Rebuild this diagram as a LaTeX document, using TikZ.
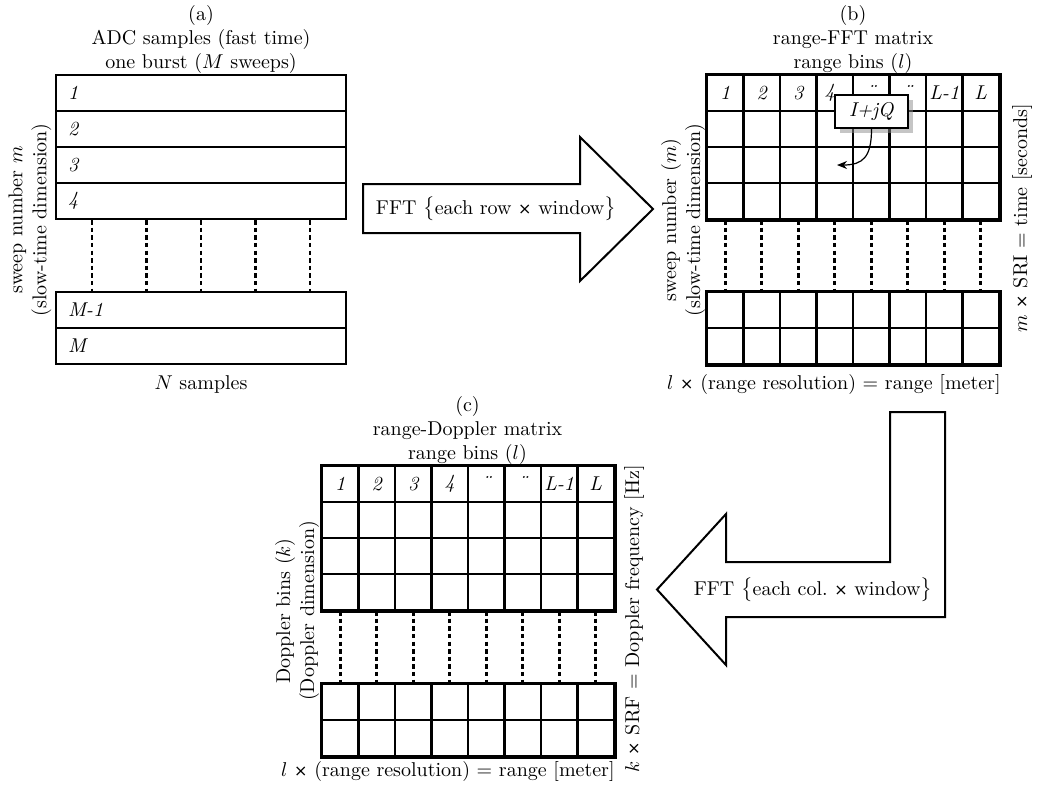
\documentclass[tikz,border=0pt]{standalone}
\usepackage{fontspec}
\newfontfamily\timesfont{DejaVu Sans}
\usetikzlibrary{arrows.meta,shadows}
% small sans multiplication sign used in the labels
\newcommand{\tms}{{\fontsize{8}{8}\timesfont ×}}
\begin{document}
\begin{tikzpicture}[x=0.5pt,y=-0.5pt,
  font=\fontsize{10}{12}\selectfont,
  cellb/.style={draw, line width=1.1pt, minimum width=18.25pt, minimum height=18pt, inner sep=0pt, font=\fontsize{10}{12}\selectfont\itshape},
  rowbox/.style={draw, line width=1.1pt, minimum height=18pt, text width=133pt, inner xsep=6pt, inner ysep=0pt, align=left, font=\fontsize{10}{12}\selectfont\itshape},
  frame/.style={line width=1.4pt},
  dotline/.style={line width=1.4pt, dash pattern=on 2.2pt off 1.6pt},
  bigarrow/.style={draw, line width=1pt, fill=white, line join=miter},
  caption/.style={align=center, inner sep=0pt},
  sidelabel/.style={rotate=90, align=center, inner sep=0pt},
]
\useasboundingbox (0,0) rectangle (1038,789);

% ---------- (a) ADC samples ----------
\foreach \i/\t/\y in {1/1/93, 2/2/129, 3/3/165, 4/4/201, 5/M-1/310, 6/M/346}
  \node[rowbox] (a\i) at (201,\y) {\t};
\foreach \dx in {-109,-54.5,0,54.5,109}
  \draw[dotline] ([xshift=\dx*0.5pt]a4.south) -- ([xshift=\dx*0.5pt]a5.north);
\node[caption, anchor=south] (ta) at (201,74) {(a)\\ADC samples (fast time)\\one burst ($M$ sweeps)};
\node[anchor=base] (na) at (201,389) {$N$ samples};
\node[sidelabel] (la) at (30,220) {sweep number $m$\\(slow-time dimension)};

% ---------- first FFT arrow ----------
\draw[bigarrow] (363,184) -- (580,184) -- (580,137) -- (653,209) -- (580,281) -- (580,233) -- (363,233) -- cycle;
\node (fft1) at (496,209) {FFT $\bigl\{$each row \tms{} window$\bigr\}$};

% ---------- (b) range-FFT matrix ----------
\foreach \c/\t in {1/1,2/2,3/3,4/\hspace*{-5pt}4,5/\raisebox{1.5pt}{¨},6/\raisebox{1.5pt}{¨},7/L-1,8/L} {
  \pgfmathsetmacro\xx{725.25+36.5*(\c-1)}
  \node[cellb] (b-1-\c) at (\xx,93) {\t};
  \foreach \r/\y in {2/129,3/165,4/201,5/310,6/346}
    \node[cellb] (b-\r-\c) at (\xx,\y) {};
}
\draw[frame] (b-1-1.north west) rectangle (b-4-8.south east);
\draw[frame] (b-5-1.north west) rectangle (b-6-8.south east);
\foreach \c in {1,...,8}
  \draw[dotline] (b-4-\c.south) -- (b-5-\c.north);
\node[caption, anchor=south] (tb) at (853,74) {(b)\\range-FFT matrix\\range bins ($l$)};
\node[sidelabel] (lb) at (683,220) {sweep number ($m$)\\(slow-time dimension)};
\node[sidelabel] (rb) at (1022,218) {$m$ \tms{} SRI = time [seconds]};
\node[anchor=base east, inner xsep=0pt] (xb) at (1001,389) {$l$ \tms{} (range resolution) = range [meter]};

% complex sample cell
\node[draw, fill=white, line width=1pt, minimum width=36.5pt, minimum height=16.5pt, inner sep=0pt,
      drop shadow={shadow xshift=2.5pt, shadow yshift=-2.5pt, fill=black!45}] (iq) at (871.5,111.5) {\textit{I+jQ}};
\coordinate (iqend) at (837,165);
\draw[line width=0.6pt, -{Stealth[length=5pt,width=4pt]}] (iq.south) .. controls +(0,28) and +(26,0) .. (iqend);

% ---------- second FFT arrow ----------
\draw[bigarrow] (945,412) -- (945,617) -- (726,617) -- (726,665) -- (657,589.5) -- (726,514) -- (726,562) -- (890,562) -- (890,412) -- cycle;
\node (fft2) at (813,590) {FFT $\bigl\{$each col.\ \tms{} window$\bigr\}$};

% ---------- (c) range-Doppler matrix ----------
\foreach \c/\t in {1/1,2/2,3/3,4/4,5/\raisebox{1.5pt}{¨},6/\raisebox{1.5pt}{¨},7/L-1,8/L} {
  \pgfmathsetmacro\xx{340.25+36.5*(\c-1)}
  \node[cellb] (c-1-\c) at (\xx,484) {\t};
  \foreach \r/\y in {2/520,3/556,4/592,5/702,6/738}
    \node[cellb] (c-\r-\c) at (\xx,\y) {};
}
\draw[frame] (c-1-1.north west) rectangle (c-4-8.south east);
\draw[frame] (c-5-1.north west) rectangle (c-6-8.south east);
\foreach \c in {1,...,8}
  \draw[dotline] (c-4-\c.south) -- (c-5-\c.north);
\node[caption, anchor=south] (tc) at (467.5,465) {(c)\\range-Doppler matrix\\range bins ($l$)};
\node[sidelabel] (lc) at (297,611) {Doppler bins ($k$)\\(Doppler dimension)};
\node[sidelabel] (rc) at (634,619) {$k$ \tms{} SRF = Doppler frequency [Hz]};
\node[anchor=base east, inner xsep=0pt] (xc) at (615,776) {$l$ \tms{} (range resolution) = range [meter]};
\end{tikzpicture}
\end{document}
